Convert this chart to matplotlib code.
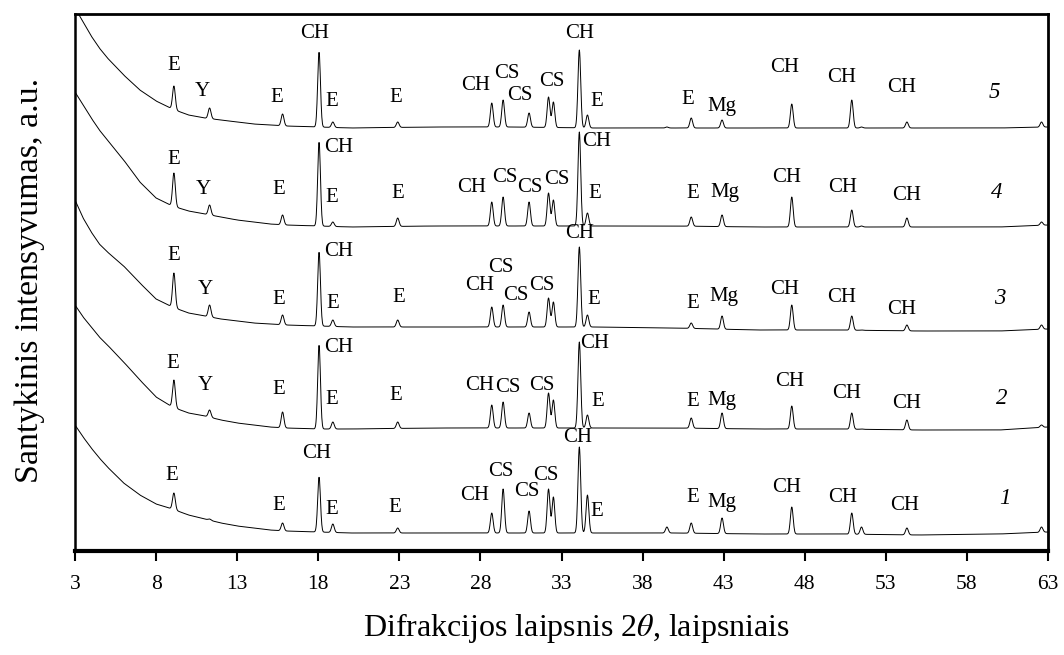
import numpy as np
import matplotlib
matplotlib.use("Agg")
import matplotlib.pyplot as plt

plt.rcParams['font.family'] = ['Liberation Serif', 'DejaVu Serif']
plt.rcParams['mathtext.fontset'] = 'stix'

# ---- data -------------------------------------------------------------
# background knots (2theta, degrees)
bg_x = [3.0, 3.5, 4.0, 4.5, 5.0, 6.0, 7.0, 8.0, 9.0, 10, 11, 12, 13, 14,
        15, 16, 18, 20, 25, 30, 35, 40, 45, 50, 55, 60, 63]

# background level of each pattern (stacked intensity, a.u.)
bg_1 = [126, 114, 103, 93, 84, 68, 56, 47, 42, 36, 32, 28, 25, 23,
        21, 20, 19, 18, 18, 18, 18, 18, 17, 17, 16, 17, 19]
bg_2 = [246, 234, 224, 214, 206, 189, 171, 154, 144, 138, 135, 131, 128, 126,
        124, 123, 122, 122, 123, 123, 123, 123, 122, 122, 121, 121, 124]
bg_3 = [351, 333, 319, 307, 299, 285, 268, 252, 244, 238, 235, 232, 230, 228,
        227, 226, 225, 224, 224, 224, 224, 223, 221, 221, 220, 220, 222]
bg_4 = [459, 446, 433, 421, 411, 391, 369, 353, 345, 340, 337, 334, 331, 329,
        327, 326, 325, 324, 325, 325, 325, 325, 324, 324, 324, 324, 326]
bg_5 = [543, 529, 515, 503, 493, 476, 461, 450, 442, 436, 433, 431, 429, 427,
        426, 425, 424, 423, 424, 424, 423, 423, 423, 423, 423, 423, 424]

# reflection positions (2theta, degrees)
peak_pos = [9.1, 11.3, 15.8, 18.05, 18.9, 22.9, 28.7, 29.4, 31.0, 32.2, 32.5,
            34.1, 34.6, 39.5, 41.0, 42.9, 47.2, 50.9, 51.5, 54.3, 62.6]

# apex intensity of each reflection in each pattern
top_1 = [58, 32, 28, 74, 27, 23, 38, 62, 40, 62, 54,
         104, 56, 24, 28, 33, 44, 38, 24, 23, 24]
top_2 = [171, 141, 139, 206, 129, 129, 146, 149, 138, 158, 151,
         209, 136, 123, 133, 138, 145, 138, 122, 131, 126]
top_3 = [278, 246, 236, 299, 231, 231, 244, 246, 239, 253, 249,
         304, 236, 223, 228, 235, 246, 235, 221, 226, 226]
top_4 = [378, 346, 336, 409, 329, 333, 349, 354, 349, 358, 351,
         419, 338, 325, 334, 336, 354, 341, 325, 333, 329]
top_5 = [465, 443, 437, 499, 429, 429, 448, 451, 438, 454, 449,
         501, 436, 424, 433, 431, 447, 451, 424, 429, 429]

# phase labels: (text, 2theta, height) for each pattern
labels_1 = [("E", 8.98, 76), ("E", 15.58, 46), ("CH", 17.92, 98), ("E", 18.84, 42),
            ("E", 22.73, 43), ("CH", 27.66, 56), ("CS", 29.26, 79), ("CS", 30.87, 59),
            ("CS", 32.04, 76), ("CH", 34.01, 114), ("E", 35.18, 40), ("E", 41.10, 54),
            ("Mg", 42.89, 48), ("CH", 46.90, 64), ("CH", 50.35, 54), ("CH", 54.17, 45)]
labels_2 = [("E", 9.04, 188), ("Y", 11.01, 166), ("E", 15.58, 161), ("CH", 19.28, 204),
            ("E", 18.84, 151), ("E", 22.79, 156), ("CH", 27.97, 166), ("CS", 29.70, 164),
            ("CS", 31.79, 166), ("CH", 35.06, 207), ("E", 35.24, 149), ("E", 41.10, 149),
            ("Mg", 42.89, 151), ("CH", 47.08, 169), ("CH", 50.59, 158), ("CH", 54.29, 148)]
labels_3 = [("E", 9.10, 296), ("Y", 11.01, 261), ("E", 15.58, 252), ("CH", 19.28, 299),
            ("E", 18.91, 248), ("E", 22.98, 253), ("CH", 27.97, 266), ("CS", 29.26, 283),
            ("CS", 30.19, 255), ("CS", 31.79, 266), ("CH", 34.13, 318), ("E", 35.00, 251),
            ("E", 41.10, 248), ("Mg", 43.01, 255), ("CH", 46.77, 262), ("CH", 50.29, 253),
            ("CH", 53.99, 242)]
labels_4 = [("E", 9.10, 391), ("Y", 10.89, 361), ("E", 15.58, 361), ("CH", 19.28, 404),
            ("E", 18.84, 354), ("E", 22.91, 358), ("CH", 27.48, 364), ("CS", 29.51, 374),
            ("CS", 31.05, 364), ("CS", 32.72, 371), ("CH", 35.18, 409), ("E", 35.06, 358),
            ("E", 41.10, 358), ("Mg", 43.07, 358), ("CH", 46.90, 374), ("CH", 50.35, 364),
            ("CH", 54.29, 356)]
labels_5 = [("E", 9.10, 486), ("Y", 10.83, 459), ("E", 15.45, 453), ("CH", 17.80, 518),
            ("E", 18.84, 449), ("E", 22.79, 454), ("CH", 27.72, 465), ("CS", 29.63, 477),
            ("CS", 30.43, 455), ("CS", 32.41, 470), ("CH", 34.13, 518), ("E", 35.18, 449),
            ("E", 40.79, 452), ("Mg", 42.89, 444), ("CH", 46.77, 483), ("CH", 50.29, 474),
            ("CH", 53.99, 464)]

# pattern numbers: (text, 2theta, height)
numbers = [("1", 60.34, 53), ("2", 60.15, 153), ("3", 60.03, 253),
           ("4", 59.84, 359), ("5", 59.72, 458)]

x_ticks = [3, 8, 13, 18, 23, 28, 33, 38, 43, 48, 53, 58, 63]

# ---- drawing ----------------------------------------------------------
peak_sigma = 0.085


def pattern(bg, tops):
    tt = np.arange(3.0, 63.0001, 0.02)
    base = np.interp(tt, bg_x, bg)
    y = base.copy()
    for p, t in zip(peak_pos, tops):
        h = t - np.interp(p, bg_x, bg)
        if h > 0:
            y += h * np.exp(-0.5 * ((tt - p) / peak_sigma) ** 2)
    return tt, y


fig = plt.figure(figsize=(10.64, 6.55), dpi=100)
ax = fig.add_axes([75 / 1064, 1 - 551 / 655, (1048 - 75) / 1064, (551 - 14) / 655])

for bg, tops in [(bg_1, top_1), (bg_2, top_2), (bg_3, top_3), (bg_4, top_4), (bg_5, top_5)]:
    tt, y = pattern(bg, tops)
    ax.plot(tt, y, color='black', lw=0.7)

for labels in [labels_1, labels_2, labels_3, labels_4, labels_5]:
    for txt, x, y in labels:
        ax.text(x, y, txt, ha='center', va='center', fontsize=15)

for txt, x, y in numbers:
    ax.text(x, y, txt, ha='center', va='center', fontsize=16.5, fontstyle='italic')

ax.set_xlim(3, 63)
ax.set_ylim(0, 537)
ax.set_xticks(x_ticks)
ax.set_xticklabels([str(t) for t in x_ticks], fontsize=15.5)
ax.set_yticks([])
ax.tick_params(axis='x', direction='out', length=7, width=1.5, pad=10)
for side, w in [('left', 1.8), ('right', 2.0), ('top', 2.0), ('bottom', 3.0)]:
    ax.spines[side].set_linewidth(w)

fig.text(30 / 1064, 1 - 280 / 655, 'Santykinis intensyvumas, a.u.',
         rotation=90, ha='center', va='center', fontsize=24.5)
fig.text(576 / 1064, 1 - 628 / 655, r'Difrakcijos laipsnis 2$\theta$, laipsniais',
         ha='center', va='center', fontsize=23)

fig.savefig('out.png', dpi=100)
